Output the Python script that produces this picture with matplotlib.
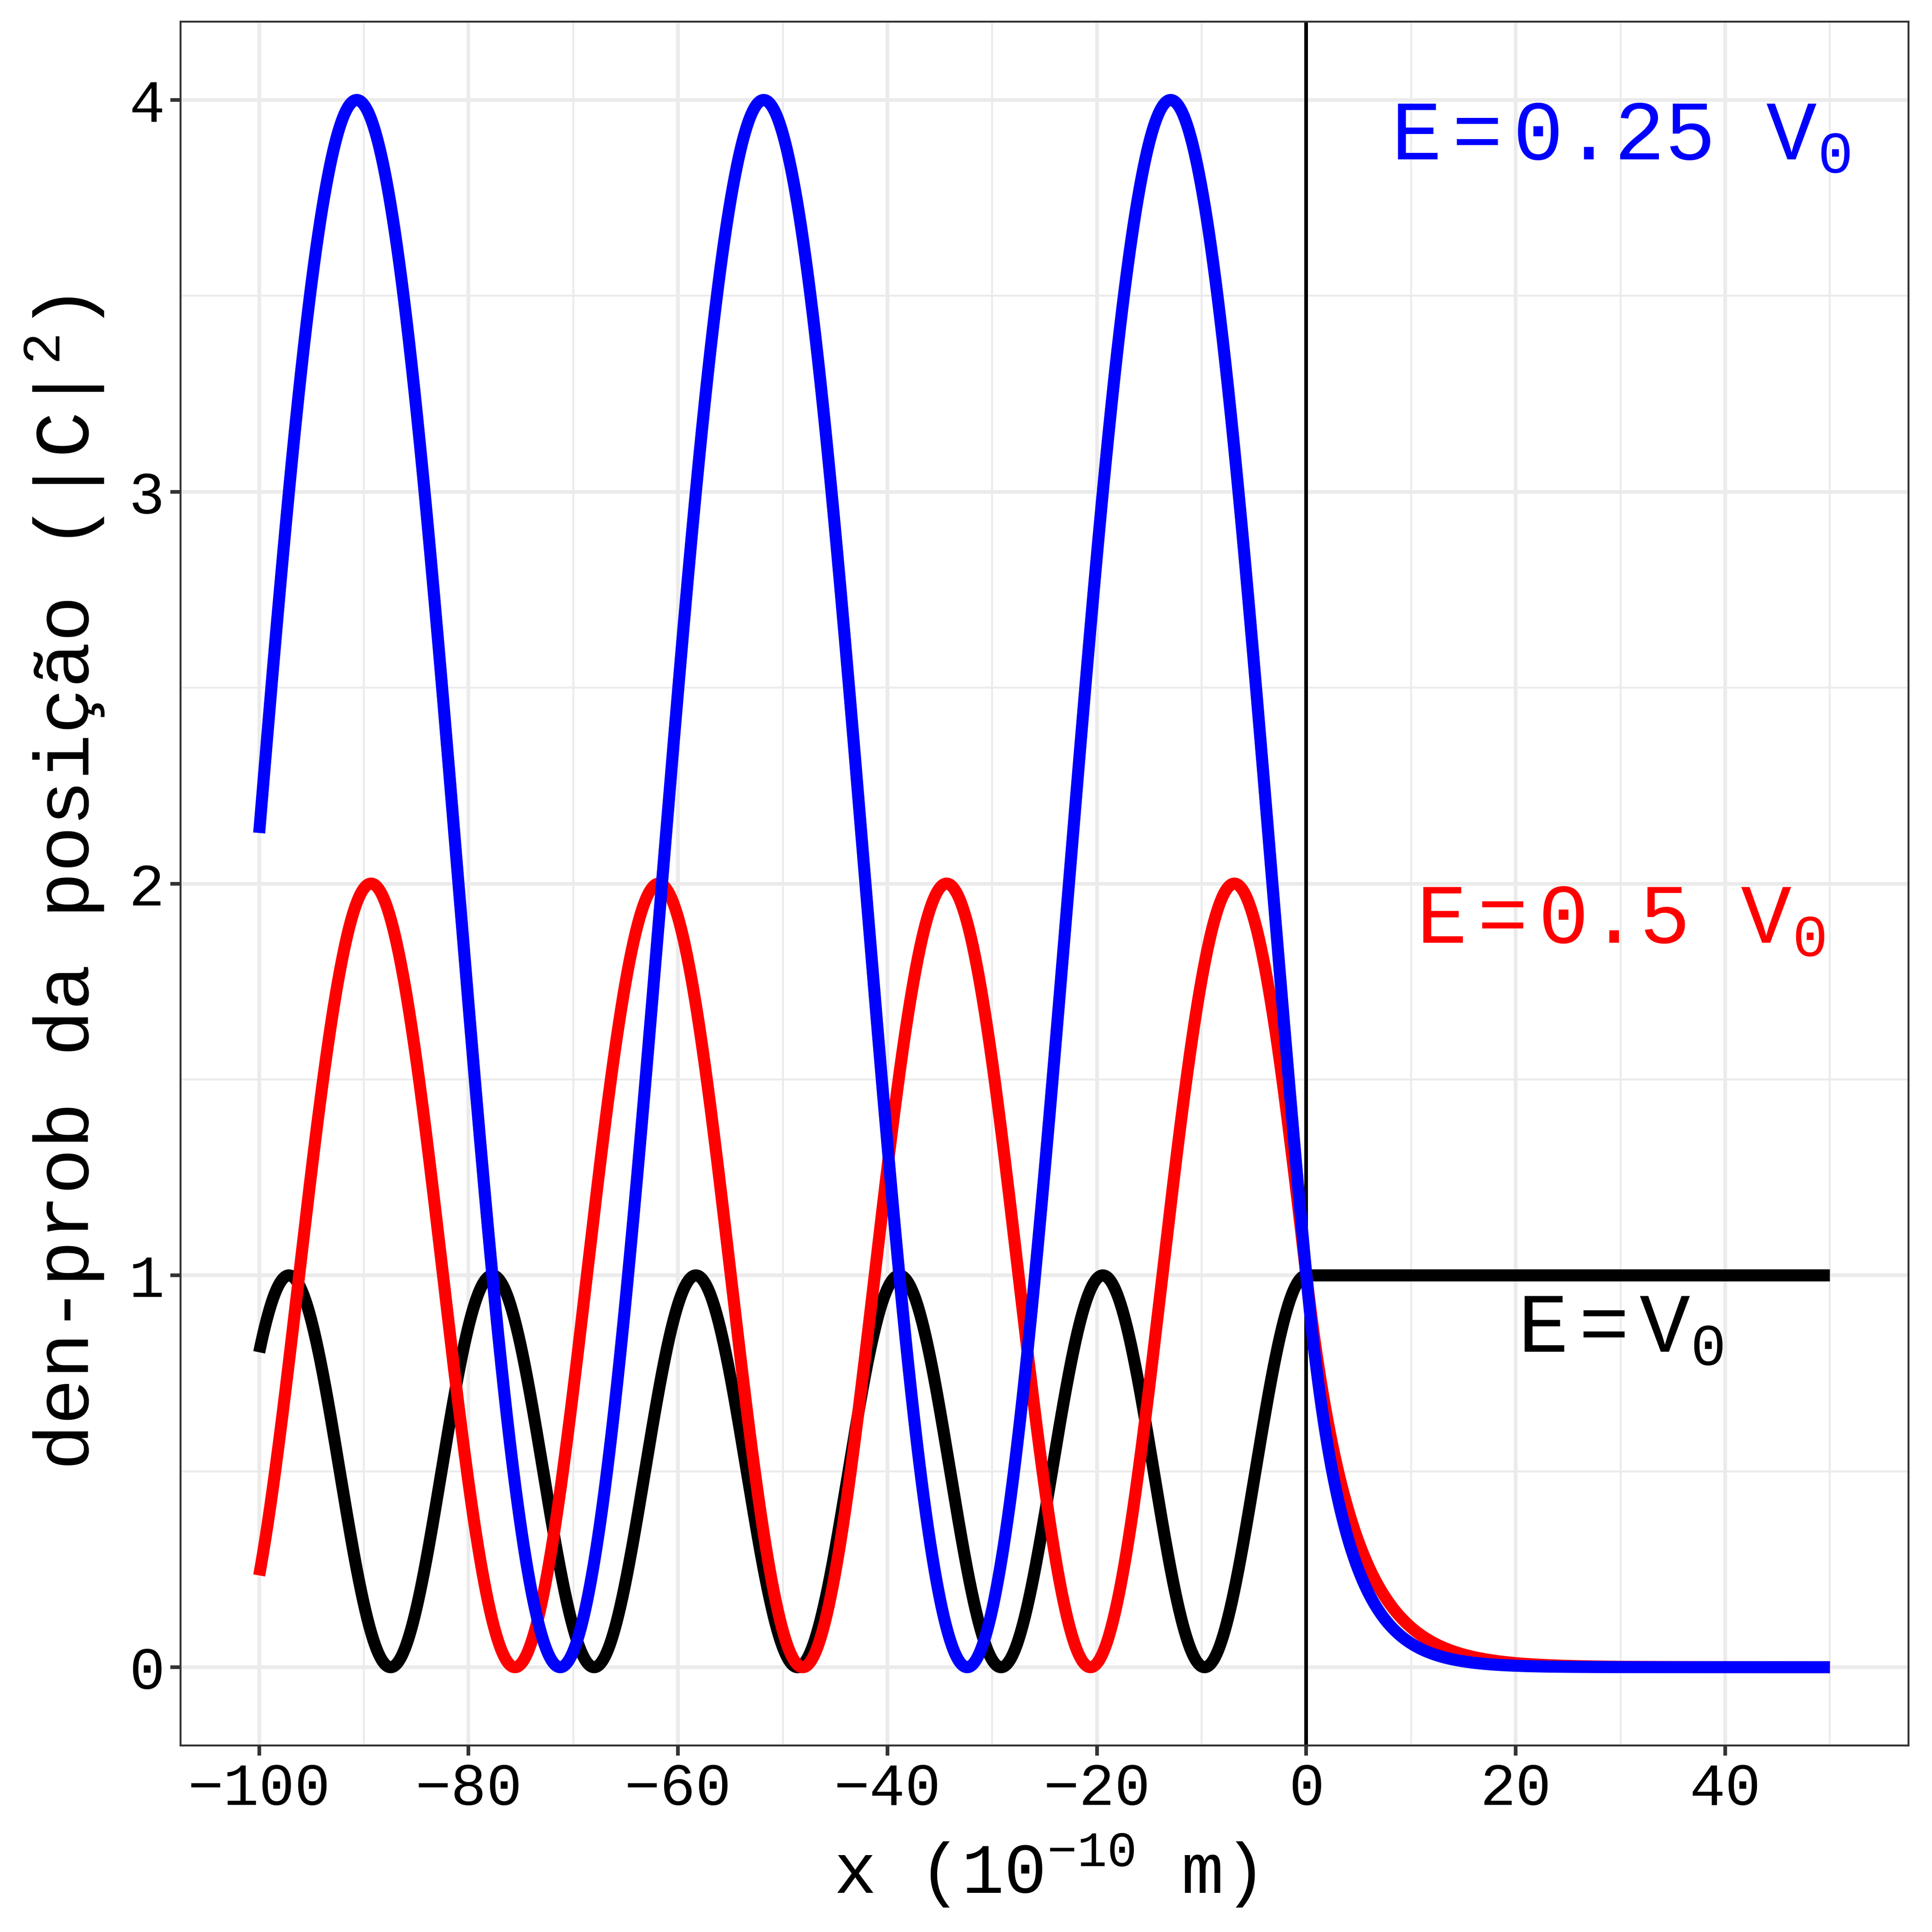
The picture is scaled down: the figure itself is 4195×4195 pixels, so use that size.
import numpy as np
import matplotlib
matplotlib.use("Agg")
import matplotlib.pyplot as plt

# step potential, E <= V0: probability density in units of |C|^2
# parameters read off the periods in the picture (electron, V0 ~ 0.1 eV, x in Angstrom)
V0 = 0.1                 # eV
hbar2_2m = 3.826         # eV * A^2
energy_ratio = [1.0, 0.5, 0.25]          # E / V0
colors = ['black', 'red', 'blue']
labels = [r'E$=$V$_0$', r'E$=$0.5 V$_0$', r'E$=$0.25 V$_0$']
label_x = [30, 30, 30]
label_y = [0.805, 1.849, 3.849]

x_min, x_max = -100, 50
x_ticks = [-100, -80, -60, -40, -20, 0, 20, 40]
y_ticks = [0, 1, 2, 3, 4]

plt.rcParams['font.family'] = ['Liberation Mono', 'DejaVu Sans']
plt.rcParams['mathtext.fontset'] = 'custom'
plt.rcParams['mathtext.rm'] = 'Liberation Mono'
plt.rcParams['mathtext.it'] = 'Liberation Mono'
plt.rcParams['mathtext.bf'] = 'Liberation Mono:bold'


def density(x, ratio):
    E = ratio * V0
    k = np.sqrt(E / hbar2_2m)
    kappa = np.sqrt(max(V0 - E, 0) / hbar2_2m)
    phi = np.arctan2(kappa, k)
    left = (V0 / E) * np.cos(k * x + phi) ** 2
    right = np.exp(-2 * kappa * x)
    return np.where(x < 0, left, right)


x = np.linspace(x_min, x_max, 4001)

fig = plt.figure(figsize=(4195 / 300, 4195 / 300), dpi=300)
ax = fig.add_axes([0.0935, 0.0965, 0.9945 - 0.0935 - 0.0067, 0.9888 - 0.0965])

grey20 = '#333333'
ax.set_xlim(-107.5, 57.5)
ax.set_ylim(-0.2, 4.2)
ax.set_xticks(x_ticks)
ax.set_yticks(y_ticks)
ax.set_xticks(np.arange(-90, 51, 20), minor=True)
ax.set_yticks(np.arange(0.5, 4, 1), minor=True)
ax.grid(True, which='major', color='#EBEBEB', linewidth=1.9)
ax.grid(True, which='minor', color='#EBEBEB', linewidth=1.0)
ax.set_axisbelow(True)
for s in ax.spines.values():
    s.set_color(grey20)
    s.set_linewidth(1.0)
ax.tick_params(which='major', length=5.3, width=1.9, color=grey20,
               labelsize=31, pad=3, labelcolor='black')
ax.tick_params(which='minor', length=0)

ax.axvline(0, color='black', linewidth=1.9, zorder=2)

for r, c in zip(energy_ratio, colors):
    ax.plot(x, density(x, r), color=c, linewidth=6.3, solid_capstyle='butt',
            solid_joinstyle='round', zorder=3)

for lab, lx, ly, c in zip(labels, label_x, label_y, colors):
    ax.text(lx, ly, lab, color=c, fontsize=44, ha='center', va='baseline', zorder=4)

ax.set_xlabel(r'x (10$^{-10}$ m)', fontsize=37, labelpad=8)
ax.set_ylabel('den-prob da posição (|C|$^2$)', fontsize=40, labelpad=12)

fig.savefig('out.png', dpi=300, facecolor='white')
